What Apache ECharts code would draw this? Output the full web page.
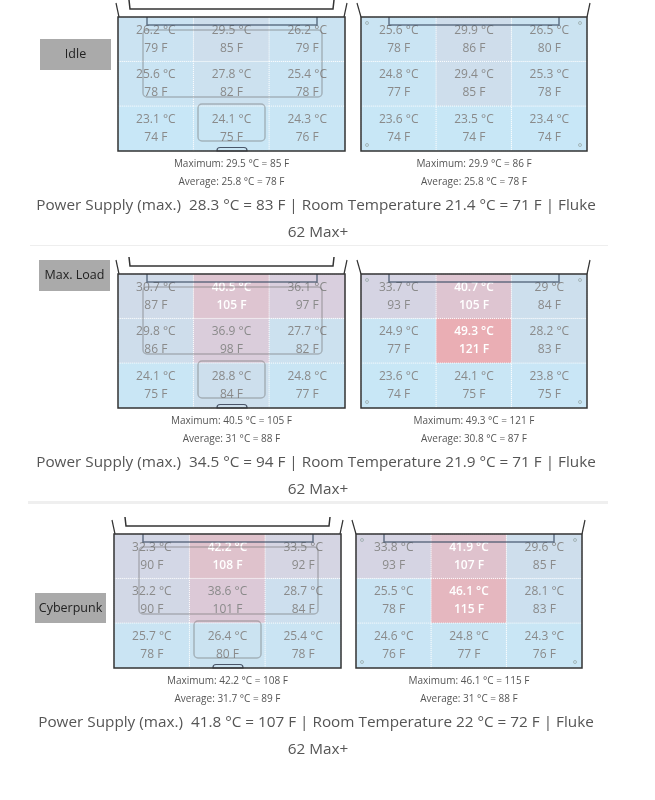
<!DOCTYPE html>
<html><head><meta charset="utf-8">
<script src="https://cdn.jsdelivr.net/npm/echarts@6/dist/echarts.min.js"></script>
<style>html,body{margin:0;padding:0;background:#fff}#c{width:655px;height:800px}</style>
</head><body><div id="c"></div>
<script>
// ---------- data ----------
const columns = ['left', 'center', 'right'];
const rows = ['back', 'middle', 'front'];

const idleTopC = [[26.2, 29.5, 26.2], [25.6, 27.8, 25.4], [23.1, 24.1, 24.3]];
const idleTopF = [[79, 85, 79], [78, 82, 78], [74, 75, 76]];
const idleBottomC = [[25.6, 29.9, 26.5], [24.8, 29.4, 25.3], [23.6, 23.5, 23.4]];
const idleBottomF = [[78, 86, 80], [77, 85, 78], [74, 74, 74]];

const loadTopC = [[30.7, 40.5, 36.1], [29.8, 36.9, 27.7], [24.1, 28.8, 24.8]];
const loadTopF = [[87, 105, 97], [86, 98, 82], [75, 84, 77]];
const loadBottomC = [[33.7, 40.7, 29], [24.9, 49.3, 28.2], [23.6, 24.1, 23.8]];
const loadBottomF = [[93, 105, 84], [77, 121, 83], [74, 75, 75]];

const cyberTopC = [[32.3, 42.2, 33.5], [32.2, 38.6, 28.7], [25.7, 26.4, 25.4]];
const cyberTopF = [[90, 108, 92], [90, 101, 84], [78, 80, 78]];
const cyberBottomC = [[33.8, 41.9, 29.6], [25.5, 46.1, 28.1], [24.6, 24.8, 24.3]];
const cyberBottomF = [[93, 107, 85], [78, 115, 83], [76, 77, 76]];

const scenarioNames = ['Idle', 'Max. Load', 'Cyberpunk'];
const maxC = [29.5, 29.9, 40.5, 49.3, 42.2, 46.1];
const maxF = [85, 86, 105, 121, 108, 115];
const avgC = [25.8, 25.8, 31, 30.8, 31.7, 31];
const avgF = [78, 78, 88, 87, 89, 88];
const psuC = [28.3, 34.5, 41.8];
const psuF = [83, 94, 107];
const roomC = [21.4, 21.9, 22];
const roomF = [71, 71, 72];

// ---------- layout (positions only) ----------
const FONT = '"Open Sans", "Noto Sans", sans-serif';
const H = 134, WA = 227, WB = 226;
const layout = [
  { top: 17, leftA: 118, leftB: 361, box: [40, 39, 71, 31] },
  { top: 274, leftA: 118, leftB: 361, box: [39, 260, 71, 31] },
  { top: 534, leftA: 114, leftB: 356, box: [35, 593, 71, 30] }
];
const panelsC = [idleTopC, idleBottomC, loadTopC, loadBottomC, cyberTopC, cyberBottomC];
const panelsF = [idleTopF, idleBottomF, loadTopF, loadBottomF, cyberTopF, cyberBottomF];

const grids = [], xAxes = [], yAxes = [], series = [], graphics = [];

function toData(C, F) {
  const d = [];
  for (let r = 0; r < rows.length; r++)
    for (let c = 0; c < columns.length; c++)
      d.push([c, r, C[r][c], F[r][c]]);
  return d;
}

const outline = 'rgba(110,110,110,0.42)';
const dark = '#333';
const bar = 'rgba(60,78,100,0.75)';

function topDecor(L, T, W) {
  const R = L + W, B = T + H;
  return [
    { type: 'line', shape: { x1: L - 2, y1: T - 14, x2: L + 1, y2: T }, style: { stroke: dark, lineWidth: 1.2 } },
    { type: 'line', shape: { x1: R + 2, y1: T - 14, x2: R - 1, y2: T }, style: { stroke: dark, lineWidth: 1.2 } },
    { type: 'polyline', shape: { points: [[L + 11, T - 17], [L + 12, T - 8], [R - 12, T - 8], [R - 11, T - 17]] }, style: { stroke: dark, lineWidth: 1.5, fill: null } },
    { type: 'polyline', shape: { points: [[L + 29, T], [L + 29, T + 8], [R - 28, T + 8], [R - 28, T]] }, style: { stroke: bar, lineWidth: 1.5, fill: null } },
    { type: 'rect', shape: { x: L + 25, y: T + 13, width: W - 48, height: 67, r: 4 }, style: { stroke: outline, lineWidth: 1.5, fill: null } },
    { type: 'rect', shape: { x: L + 80, y: T + 87, width: 67, height: 37, r: 4 }, style: { stroke: outline, lineWidth: 1.5, fill: null } },
    { type: 'rect', shape: { x: L + 99, y: B - 3.5, width: 30, height: 3.5, r: [3, 3, 0, 0] }, style: { stroke: 'rgba(50,60,80,0.85)', lineWidth: 1.2, fill: null } },
    { type: 'rect', shape: { x: L, y: T, width: W, height: H }, style: { stroke: dark, lineWidth: 1.5, fill: null } }
  ];
}
function bottomDecor(L, T, W) {
  const R = L + W, B = T + H;
  const els = [
    { type: 'line', shape: { x1: L - 4, y1: T - 14, x2: L, y2: T }, style: { stroke: dark, lineWidth: 1.2 } },
    { type: 'line', shape: { x1: R + 3, y1: T - 14, x2: R, y2: T }, style: { stroke: dark, lineWidth: 1.2 } },
    { type: 'polyline', shape: { points: [[L + 28, T], [L + 28, T + 8], [R - 28, T + 8], [R - 28, T]] }, style: { stroke: bar, lineWidth: 1.5, fill: null } },
    { type: 'rect', shape: { x: L, y: T, width: W, height: H }, style: { stroke: dark, lineWidth: 1.5, fill: null } }
  ];
  [[L + 6, T + 6], [R - 7, T + 6], [L + 6, B - 6], [R - 7, B - 6]].forEach(p => {
    els.push({ type: 'circle', shape: { cx: p[0], cy: p[1], r: 1.5 }, style: { stroke: '#9aa', lineWidth: 0.8, fill: null } });
  });
  return els;
}
function txt(x, y, s, size, color, align) {
  return { type: 'text', x: x, y: y, style: { text: s, fontSize: size, fontFamily: FONT, fill: color, align: align || 'center', verticalAlign: 'middle' } };
}

layout.forEach((lay, s) => {
  [['A', lay.leftA, WA], ['B', lay.leftB, WB]].forEach((g, k) => {
    const idx = s * 2 + k;
    grids.push({ left: g[1], top: lay.top, width: g[2], height: H, containLabel: false });
    xAxes.push({ type: 'category', data: columns, gridIndex: idx, show: false });
    yAxes.push({ type: 'category', data: rows, gridIndex: idx, show: false, inverse: true });
    series.push({
      type: 'heatmap', xAxisIndex: idx, yAxisIndex: idx,
      data: toData(panelsC[idx], panelsF[idx]),
      itemStyle: { borderColor: '#fff', borderWidth: 1, borderType: 'dotted' },
      emphasis: { disabled: true },
      label: {
        show: true,
        formatter: p => {
          const k2 = p.value[2] >= 40 ? 'w' : 'g';
          return '{' + k2 + '|' + p.value[2] + ' °C}\n{' + k2 + '|' + p.value[3] + ' F}';
        },
        rich: {
          g: { color: '#8a8a8a', fontSize: 12, lineHeight: 18, fontFamily: FONT },
          w: { color: '#fff', fontSize: 12, lineHeight: 18, fontFamily: FONT, fontWeight: 600 }
        }
      }
    });
    const decor = k === 0 ? topDecor(g[1], lay.top, g[2]) : bottomDecor(g[1], lay.top, g[2]);
    decor.forEach(e => { e.z = 100; graphics.push(e); });
    const cx = g[1] + g[2] / 2, B = lay.top + H;
    graphics.push(txt(cx, B + 13, 'Maximum: ' + maxC[idx] + ' °C = ' + maxF[idx] + ' F', 10, '#555'));
    graphics.push(txt(cx, B + 31, 'Average: ' + avgC[idx] + ' °C = ' + avgF[idx] + ' F', 10, '#555'));
  });
  const B = lay.top + H;
  graphics.push({ type: 'rect', shape: { x: lay.box[0], y: lay.box[1], width: lay.box[2], height: lay.box[3] }, style: { fill: '#aaaaaa' } });
  graphics.push(txt(lay.box[0] + lay.box[2] / 2, lay.box[1] + lay.box[3] / 2, scenarioNames[s], 12.5, '#222'));
  graphics.push(txt(316, B + 55, 'Power Supply (max.)  ' + psuC[s] + ' °C = ' + psuF[s] + ' F | Room Temperature ' + roomC[s] + ' °C = ' + roomF[s] + ' F | Fluke', 15.3, '#555'));
  graphics.push(txt(318, B + 82, '62 Max+', 15.3, '#555'));
});
graphics.push({ type: 'line', shape: { x1: 30, y1: 245.5, x2: 608, y2: 245.5 }, style: { stroke: '#eeeeee', lineWidth: 1 } });
graphics.push({ type: 'line', shape: { x1: 28, y1: 502.5, x2: 608, y2: 502.5 }, style: { stroke: '#efefef', lineWidth: 3 } });

const chart = echarts.init(document.getElementById('c'));
chart.setOption({
  backgroundColor: '#fff',
  animation: false,
  grid: grids, xAxis: xAxes, yAxis: yAxes,
  visualMap: {
    show: false, type: 'continuous', min: 22, max: 50, dimension: 2,
    seriesIndex: [0, 1, 2, 3, 4, 5],
    inRange: { color: ['#c7e9f9', '#cddfed', '#d9cfde', '#e0c0ca', '#ebacb1'] }
  },
  series: series,
  graphic: { elements: graphics }
});
</script></body></html>
